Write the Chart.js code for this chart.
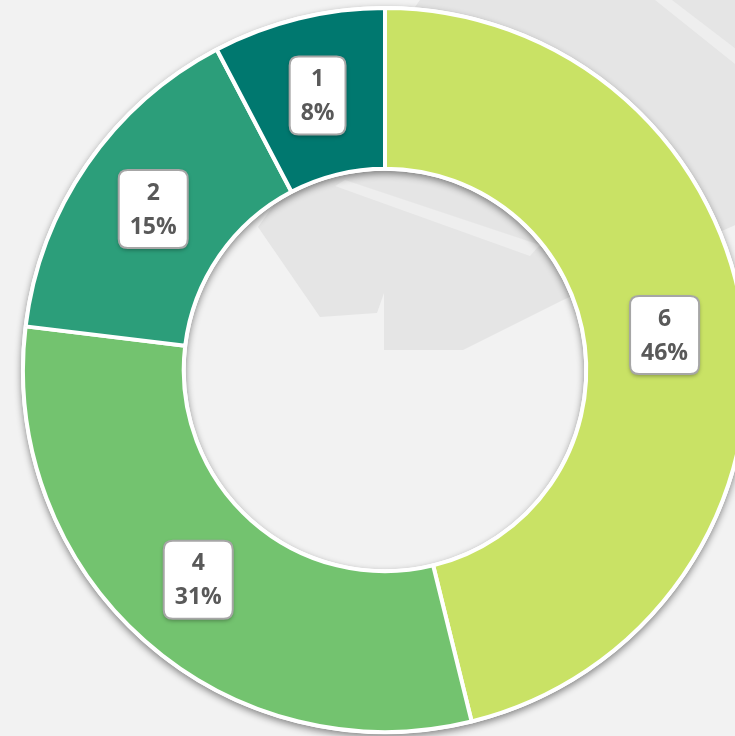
<!DOCTYPE html>
<html>
<head>
<meta charset="utf-8">
<script src="https://cdn.jsdelivr.net/npm/chart.js@4.4.1/dist/chart.umd.min.js"></script>
<style>
    html, body { margin: 0; padding: 0; background: #f2f2f2; overflow: hidden; }
    #wrap { position: absolute; left: 0; top: 0; width: 770px; height: 740px; }
</style>
</head>
<body>
<div id="wrap"><canvas id="donut" width="770" height="740"></canvas></div>
<script>
// Data
const categories = ['6', '4', '2', '1'];
const values = [6, 4, 2, 1];
const colors = ['#c9e265', '#73c36f', '#2c9e7a', '#00786f'];

const total = values.reduce((a, b) => a + b, 0);

// Background decoration (faint grey shapes behind the chart)
const backdrop = {
    id: 'backdrop',
    beforeDraw(chart) {
        const ctx = chart.ctx;
        ctx.save();
        ctx.fillStyle = '#f2f2f2';
        ctx.fillRect(0, 0, chart.width, chart.height);

        ctx.fillStyle = '#e5e5e5';
        ctx.beginPath();
        ctx.moveTo(420, 0);
        ctx.lineTo(770, 0);
        ctx.lineTo(770, 210);
        ctx.lineTo(563, 300);
        ctx.lineTo(463, 350);
        ctx.lineTo(384, 350);
        ctx.lineTo(384, 293);
        ctx.lineTo(377, 313);
        ctx.lineTo(320, 317);
        ctx.lineTo(258, 227);
        ctx.closePath();
        ctx.fill();

        // lighter streaks
        ctx.fillStyle = '#eeeeee';
        ctx.beginPath();
        ctx.moveTo(655, 0);
        ctx.lineTo(672, 0);
        ctx.lineTo(770, 75);
        ctx.lineTo(770, 92);
        ctx.closePath();
        ctx.fill();
        ctx.beginPath();
        ctx.moveTo(335, 186);
        ctx.lineTo(345, 180);
        ctx.lineTo(540, 245);
        ctx.lineTo(530, 256);
        ctx.closePath();
        ctx.fill();
        ctx.restore();
    }
};

// Drop shadow under the ring
const ringShadow = {
    id: 'ringShadow',
    beforeDatasetsDraw(chart) {
        const arc = chart.getDatasetMeta(0).data[0];
        if (!arc) return;
        const ctx = chart.ctx;
        ctx.save();
        ctx.shadowColor = 'rgba(0,0,0,0.45)';
        ctx.shadowBlur = 7;
        ctx.shadowOffsetY = 3;
        ctx.fillStyle = '#ffffff';
        ctx.beginPath();
        ctx.arc(arc.x, arc.y, arc.outerRadius + 2, 0, Math.PI * 2);
        ctx.arc(arc.x, arc.y, arc.innerRadius - 2, 0, Math.PI * 2, true);
        ctx.fill('evenodd');
        ctx.restore();
    }
};

// Value + percent callouts
function roundRect(ctx, x, y, w, h, r) {
    ctx.beginPath();
    ctx.moveTo(x + r, y);
    ctx.lineTo(x + w - r, y);
    ctx.quadraticCurveTo(x + w, y, x + w, y + r);
    ctx.lineTo(x + w, y + h - r);
    ctx.quadraticCurveTo(x + w, y + h, x + w - r, y + h);
    ctx.lineTo(x + r, y + h);
    ctx.quadraticCurveTo(x, y + h, x, y + h - r);
    ctx.lineTo(x, y + r);
    ctx.quadraticCurveTo(x, y, x + r, y);
    ctx.closePath();
}

const callouts = {
    id: 'callouts',
    afterDatasetsDraw(chart) {
        const ctx = chart.ctx;
        const meta = chart.getDatasetMeta(0);
        ctx.save();
        ctx.font = 'bold 23px "Open Sans"';
        ctx.textAlign = 'center';
        ctx.textBaseline = 'middle';
        meta.data.forEach((arc, i) => {
            const pos = arc.tooltipPosition();
            const v = values[i];
            const pct = Math.round(v / total * 100) + '%';
            const w = Math.max(ctx.measureText(pct).width, ctx.measureText(String(v)).width) + 22;
            const h = 78;
            const bx = pos.x - w / 2;
            const by = pos.y - h / 2 - 1;

            ctx.save();
            ctx.shadowColor = 'rgba(0,0,0,0.35)';
            ctx.shadowBlur = 4;
            ctx.shadowOffsetY = 2;
            ctx.fillStyle = '#ffffff';
            roundRect(ctx, bx, by, w, h, 9);
            ctx.fill();
            ctx.restore();

            ctx.strokeStyle = '#a6a6a6';
            ctx.lineWidth = 2;
            roundRect(ctx, bx, by, w, h, 9);
            ctx.stroke();

            ctx.fillStyle = '#595959';
            ctx.fillText(String(v), pos.x, pos.y - 17);
            ctx.fillText(pct, pos.x, pos.y + 17);
        });
        ctx.restore();
    }
};

function initChart() {
    const ctx = document.getElementById('donut').getContext('2d');
    new Chart(ctx, {
        type: 'doughnut',
        data: {
            labels: categories,
            datasets: [{
                data: values,
                backgroundColor: colors,
                borderColor: '#ffffff',
                borderWidth: 4,
                hoverBorderWidth: 4,
                hoverOffset: 0
            }]
        },
        options: {
            responsive: false,
            animation: false,
            cutout: '55.6%',
            layout: { padding: { top: 6, bottom: 6, left: 0, right: 0 } },
            plugins: {
                legend: { display: false },
                tooltip: { enabled: false }
            }
        },
        plugins: [backdrop, ringShadow, callouts]
    });
}

window.onload = initChart;
</script>
</body>
</html>
